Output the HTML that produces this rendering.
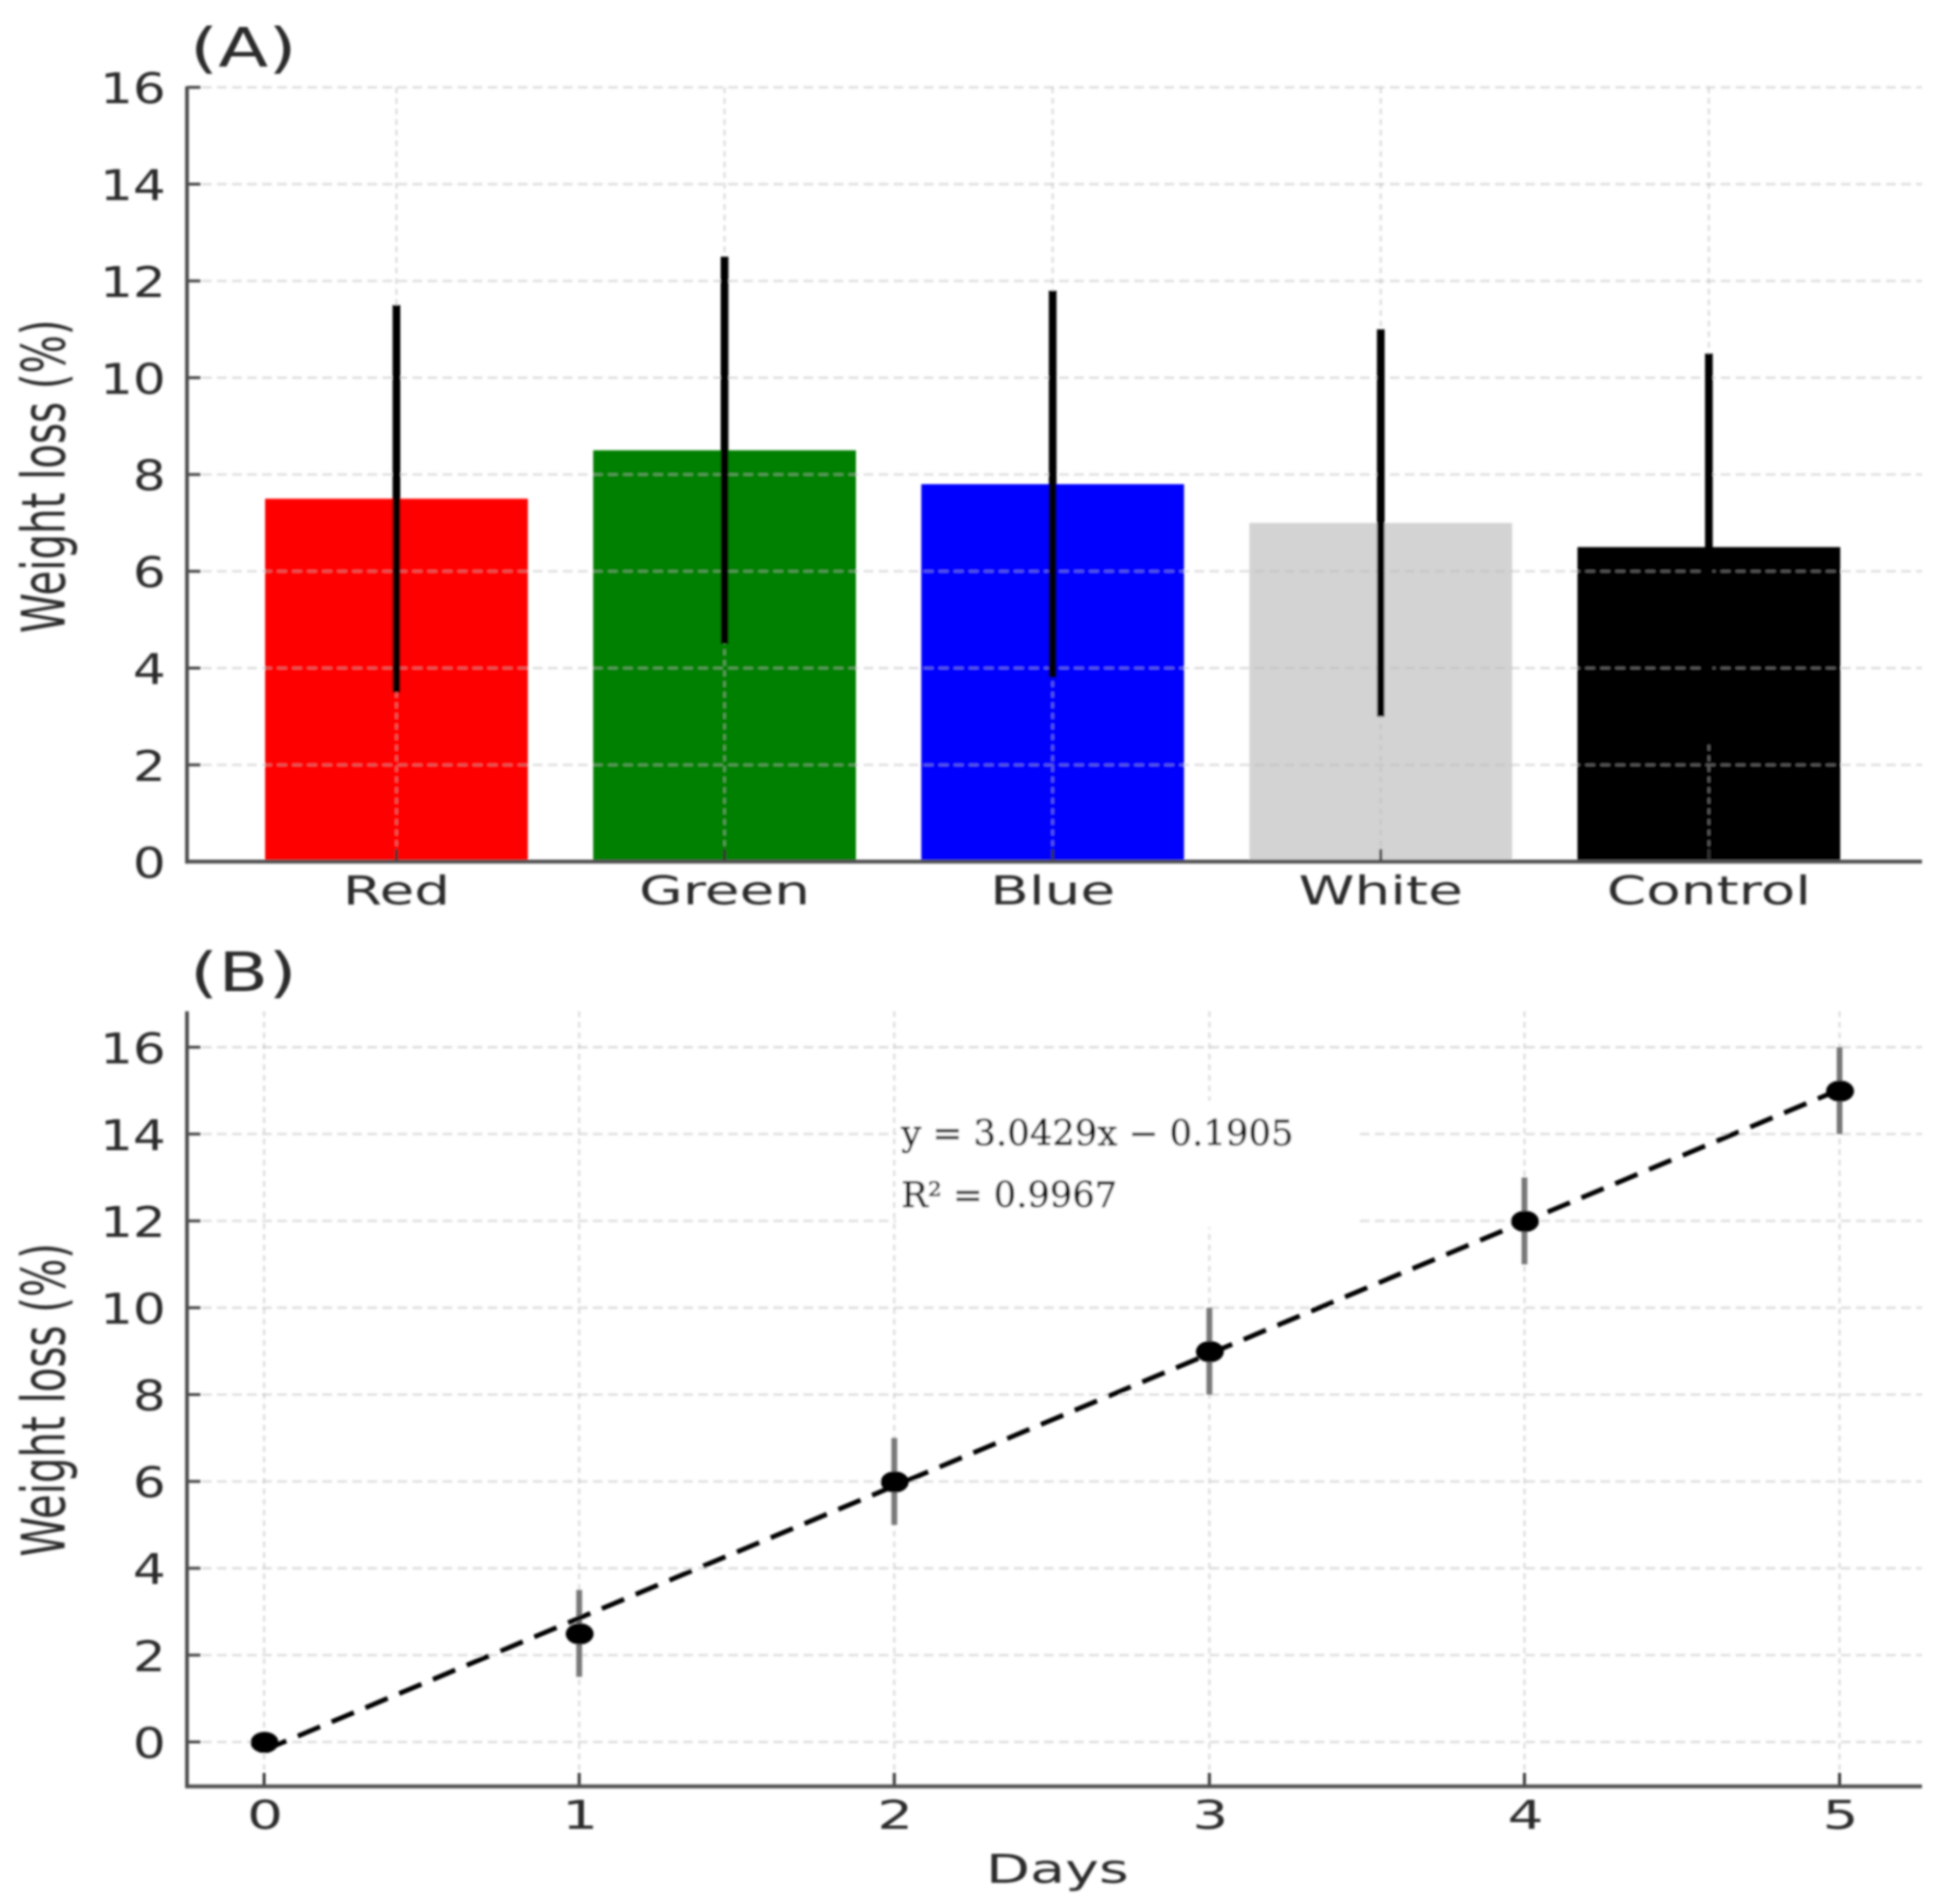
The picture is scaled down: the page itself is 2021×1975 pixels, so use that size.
<!DOCTYPE html>
<html lang="en">
<head>
<meta charset="utf-8">
<title>Weight loss charts</title>
<style>
html,body{margin:0;padding:0;background:#fff;}
svg{display:block;}
text{font-family:"DejaVu Sans","Liberation Sans",sans-serif;fill:#2b2b2b;}
text.serif{font-family:"DejaVu Serif","Liberation Serif",serif;fill:#111;stroke:#111;stroke-width:0.5;}
</style>
</head>
<body>
<svg id="chart" xmlns="http://www.w3.org/2000/svg" width="2021" height="1975" viewBox="0 0 2021 1975">
  <defs>
    <filter id="soft" filterUnits="userSpaceOnUse" x="0" y="0" width="2021" height="1975">
      <feGaussianBlur stdDeviation="1"/>
    </filter>
  </defs>
  <rect x="0" y="0" width="2021" height="1975" fill="#fff"/>
  <g id="root" filter="url(#soft)">
    <g id="panelA"></g>
    <g id="panelB"></g>
    <text transform="translate(197,69) scale(1.35,1)" font-size="56">(A)</text>
    <text transform="translate(197,1028) scale(1.35,1)" font-size="56">(B)</text>
    <text transform="translate(67,494) rotate(-90) scale(1,1.5)" font-size="41.8" text-anchor="middle">Weight loss (%)</text>
    <text transform="translate(67,1452) rotate(-90) scale(1,1.5)" font-size="41.8" text-anchor="middle">Weight loss (%)</text>
    <text transform="translate(1097,1953) scale(1.45,1)" font-size="41" text-anchor="middle">Days</text>
  </g>
</svg>
<script>
// Panel A data
const barCategories = ['Red', 'Green', 'Blue', 'White', 'Control'];
const barValues = [7.5, 8.5, 7.8, 7.0, 6.5];
const barErrors = [4, 4, 4, 4, 4];
const barColors = ['#ff0000', '#008000', '#0000ff', '#d3d3d3', '#000000'];
const barTicksY = [0, 2, 4, 6, 8, 10, 12, 14, 16];

// Panel B data
const dayValues = [0, 1, 2, 3, 4, 5];
const lossValues = [0, 2.5, 6, 9, 12, 15];
const lossErrors = [0, 1, 1, 1, 1, 1];
const lineTicksY = [0, 2, 4, 6, 8, 10, 12, 14, 16];
const fitSlope = 3.0429;
const fitIntercept = -0.1905;

const NS = 'http://www.w3.org/2000/svg';
const GRID = 'rgba(187,187,187,0.5)';
const SPINE = '#505050';
const LEFT = 194, RIGHT = 1994;

function xA(i) { return 411.3 + 340.4 * i; }
function yA(v) { return 893.8 - 50.2 * v; }
function xB(d) { return 274 + 326.9 * d; }
function yB(v) { return 1806.9 - 45.04 * v; }

function make(tag, attrs, parent) {
  const node = document.createElementNS(NS, tag);
  for (const k in attrs) node.setAttribute(k, attrs[k]);
  parent.appendChild(node);
  return node;
}

const A = document.getElementById('panelA');
const B = document.getElementById('panelB');

// ---------- Panel A ----------
barCategories.forEach(function (name, i) {
  const half = 136.3;
  const top = yA(barValues[i]);
  const el = make('rect', { x: xA(i) - half, y: top, width: half * 2, height: yA(0) - top, fill: barColors[i] }, A);
  
  
});
barTicksY.forEach(function (t) {
  const el = make('line', { x1: LEFT, x2: RIGHT, y1: yA(t), y2: yA(t), stroke: GRID, 'stroke-width': 2.4, 'stroke-dasharray': '10 5.6' }, A);
  
  
});
barCategories.forEach(function (name, i) {
  const el = make('line', { x1: xA(i), x2: xA(i), y1: yA(16), y2: yA(0), stroke: GRID, 'stroke-width': 2.4, 'stroke-dasharray': '6 5' }, A);
  
  
});
barCategories.forEach(function (name, i) {
  const el = make('line', { x1: xA(i), x2: xA(i), y1: yA(barValues[i] + barErrors[i]), y2: yA(barValues[i] - barErrors[i]), stroke: '#000', 'stroke-width': 8 }, A);
  
  
});
barTicksY.forEach(function (t) {
  const tick = make('line', { x1: LEFT, x2: LEFT + 14, y1: yA(t), y2: yA(t), stroke: '#444', 'stroke-width': 3 }, A);
  
  
  const label = make('text', { transform: 'translate(172,' + (yA(t) + 16.5) + ') scale(1.22,1)', 'font-size': 44, 'text-anchor': 'end' }, A);
  label.textContent = String(t);
  
  
});
barCategories.forEach(function (name, i) {
  const tick = make('line', { x1: xA(i), x2: xA(i), y1: yA(0) - 13, y2: yA(0), stroke: '#333', 'stroke-width': 3 }, A);
  
  
  const label = make('text', { transform: 'translate(' + xA(i) + ',938) scale(1.43,1)', 'font-size': 41, 'text-anchor': 'middle' }, A);
  label.textContent = name;
  
  
});
const spineAY = make('line', { x1: LEFT, x2: LEFT, y1: yA(16) - 1, y2: yA(0) + 2, stroke: SPINE, 'stroke-width': 4 }, A);


const spineAX = make('line', { x1: LEFT - 2, x2: RIGHT, y1: yA(0), y2: yA(0), stroke: SPINE, 'stroke-width': 4 }, A);



// ---------- Panel B ----------
const TOPB = 1049, BOTB = 1853;
lineTicksY.forEach(function (t) {
  const el = make('line', { x1: LEFT, x2: RIGHT, y1: yB(t), y2: yB(t), stroke: GRID, 'stroke-width': 2.4, 'stroke-dasharray': '10 5.6' }, B);
  
  
});
dayValues.forEach(function (d) {
  const el = make('line', { x1: xB(d), x2: xB(d), y1: TOPB, y2: BOTB, stroke: GRID, 'stroke-width': 2.4, 'stroke-dasharray': '6 5' }, B);
  
  
});
const eqBox = make('rect', { x: 930, y: 1142, width: 480, height: 131, fill: '#fff' }, B);


const eq1 = make('text', { x: 935, y: 1188, 'font-size': 36, 'class': 'serif', textLength: 407, lengthAdjust: 'spacingAndGlyphs' }, B);
eq1.textContent = 'y = 3.0429x \u2212 0.1905';


const eq2 = make('text', { x: 935, y: 1252, 'font-size': 36, 'class': 'serif', textLength: 224, lengthAdjust: 'spacingAndGlyphs' }, B);
eq2.textContent = 'R\u00B2 = 0.9967';



dayValues.forEach(function (d, i) {
  if (lossErrors[i] > 0) {
    const err = make('line', { x1: xB(d), x2: xB(d), y1: yB(lossValues[i] + lossErrors[i]), y2: yB(lossValues[i] - lossErrors[i]), stroke: '#777', 'stroke-width': 6 }, B);
    
    
  }
});
const firstDay = dayValues[0];
const lastDay = dayValues[dayValues.length - 1];
const fit = make('line', { x1: xB(firstDay), y1: yB(fitSlope * firstDay + fitIntercept), x2: xB(lastDay), y2: yB(fitSlope * lastDay + fitIntercept), stroke: '#000', 'stroke-width': 5, 'stroke-dasharray': '25 13' }, B);


dayValues.forEach(function (d, i) {
  const pt = make('ellipse', { cx: xB(d) + 0.5, cy: yB(lossValues[i]) + 0.5, rx: 14.5, ry: 11, fill: '#000' }, B);
  
  
});
lineTicksY.forEach(function (t) {
  const tick = make('line', { x1: LEFT, x2: LEFT + 14, y1: yB(t), y2: yB(t), stroke: '#444', 'stroke-width': 3 }, B);
  
  
  const label = make('text', { transform: 'translate(172,' + (yB(t) + 16.5) + ') scale(1.22,1)', 'font-size': 44, 'text-anchor': 'end' }, B);
  label.textContent = String(t);
  
  
});
dayValues.forEach(function (d) {
  const tick = make('line', { x1: xB(d), x2: xB(d), y1: BOTB - 14, y2: BOTB, stroke: '#333', 'stroke-width': 3 }, B);
  
  
  const label = make('text', { transform: 'translate(' + (xB(d) + 1) + ',1897) scale(1.43,1)', 'font-size': 41, 'text-anchor': 'middle' }, B);
  label.textContent = String(d);
  
  
});
const spineBY = make('line', { x1: LEFT, x2: LEFT, y1: TOPB, y2: BOTB + 2, stroke: SPINE, 'stroke-width': 4 }, B);


const spineBX = make('line', { x1: LEFT - 2, x2: RIGHT, y1: BOTB, y2: BOTB, stroke: SPINE, 'stroke-width': 4 }, B);


</script>
</body>
</html>
